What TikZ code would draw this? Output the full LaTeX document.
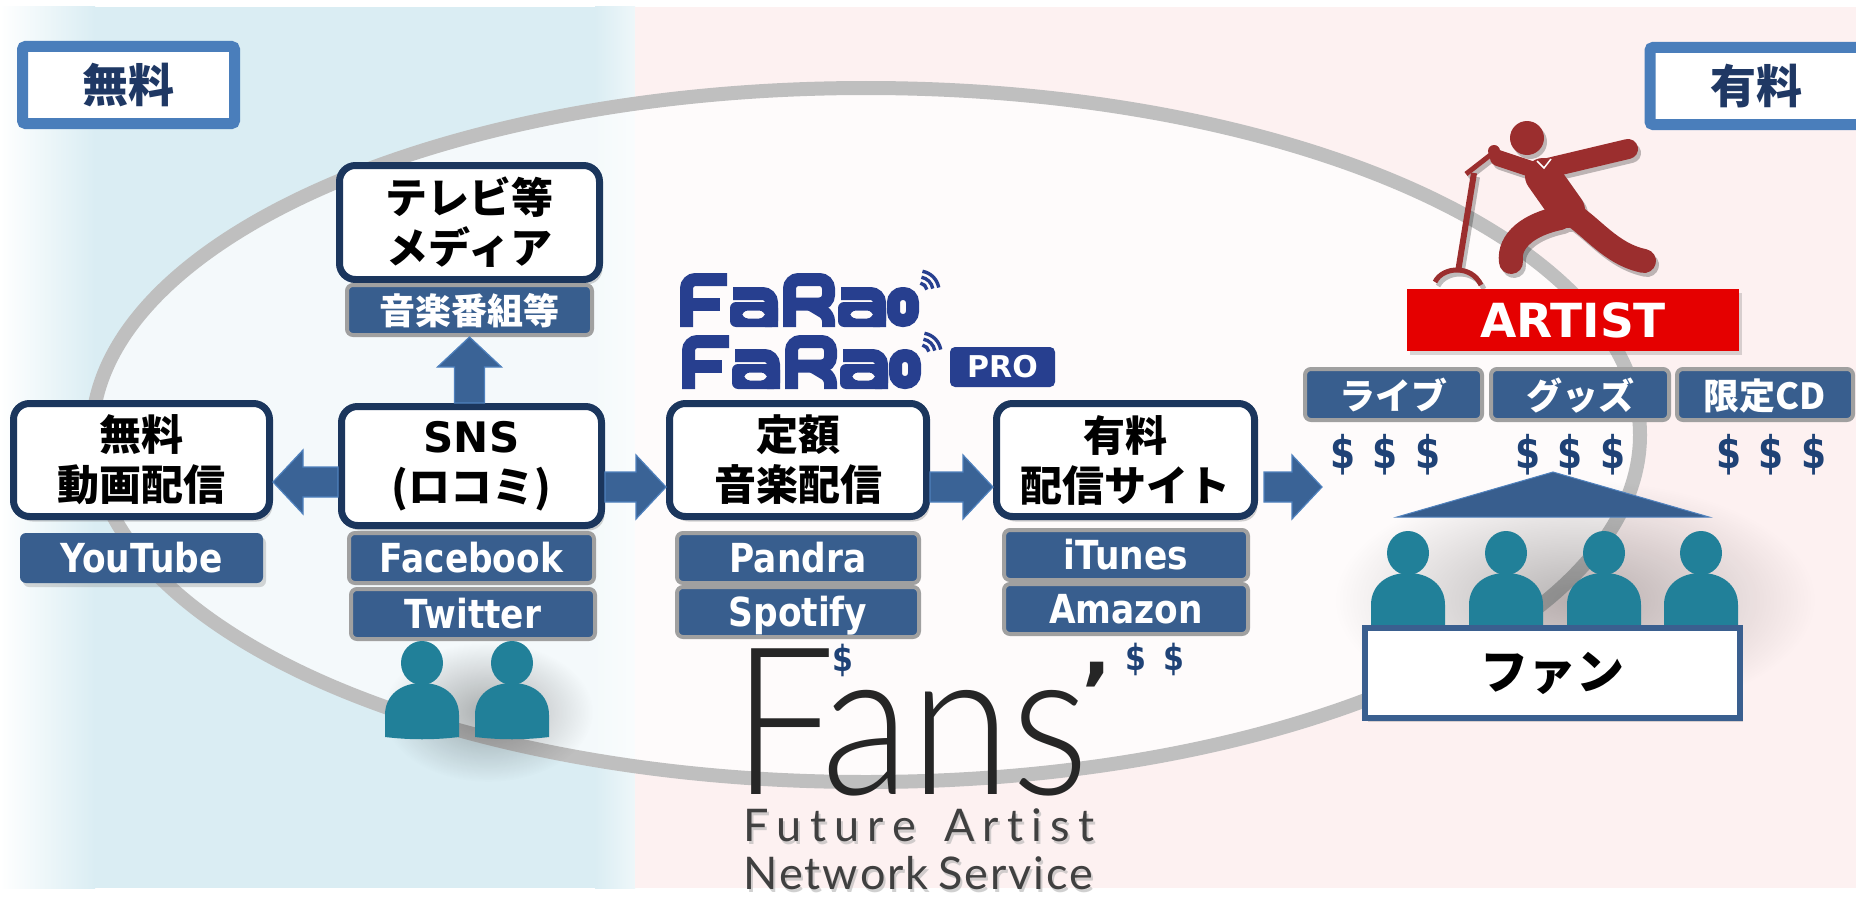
\documentclass[tikz,border=0pt]{standalone}
\usepackage{fontspec}
\usetikzlibrary{calc,shadows,fadings}

\newfontfamily\jp{Noto Sans CJK JP}
\newfontfamily\lat{DejaVu Sans}
\newfontfamily\latn{DejaVu Sans}[FakeStretch=0.86]
\newfontfamily\fansfont{Lato Light}
\newfontfamily\subfont{Lato}

\definecolor{navy}{RGB}{27,54,93}
\definecolor{tagblue}{RGB}{56,94,142}
\definecolor{taggray}{RGB}{160,160,160}
\definecolor{arrowblue}{RGB}{58,99,150}
\definecolor{arrowedge}{RGB}{79,129,189}
\definecolor{labelblue}{RGB}{74,126,187}
\definecolor{labeltext}{RGB}{31,56,100}
\definecolor{dollar}{RGB}{31,66,118}
\definecolor{fanteal}{RGB}{33,128,153}
\definecolor{singer}{RGB}{155,46,46}
\definecolor{artistred}{RGB}{229,0,0}
\definecolor{farao}{RGB}{39,63,143}
\definecolor{freebg}{RGB}{218,237,243}
\definecolor{paidbg}{RGB}{253,241,241}
\definecolor{ringgray}{RGB}{191,191,191}
\definecolor{boxblue}{RGB}{58,95,143}

\tikzfading[name=softglow, inner color=transparent!0, outer color=transparent!100]

\tikzset{
  stage/.style={draw=navy, line width=7pt, fill=white, rounded corners=16pt,
    align=center, inner sep=0pt, minimum width=258pt, minimum height=113pt,
    font=\jp\bfseries\fontsize{42}{50}\selectfont,
    drop shadow={opacity=.35, shadow xshift=3pt, shadow yshift=-5pt}},
  svc/.style={draw=taggray, line width=4pt, fill=tagblue, rounded corners=6pt,
    minimum width=244pt, minimum height=50pt, inner sep=0pt, text=white,
    text height=29pt, text depth=0pt},
  svclat/.style={svc, font=\latn\bfseries\fontsize{40}{44}\selectfont},
  svcjp/.style={svc, font=\jp\bfseries\fontsize{36}{40}\selectfont},
  sidelabel/.style={draw=labelblue, line width=11pt, fill=white, rounded corners=3pt,
    minimum width=212pt, minimum height=77pt, inner sep=0pt, text=labeltext,
    font=\jp\bfseries\fontsize{46}{50}\selectfont,
    drop shadow={opacity=.3, shadow xshift=3pt, shadow yshift=-4pt}},
  barrow/.style={fill=arrowblue, draw=arrowedge, line width=1.2pt},
  dollars/.style={text=dollar, inner sep=0pt, font=\lat\bfseries\fontsize{36}{40}\selectfont},
  smalldollar/.style={text=dollar, inner sep=0pt, font=\lat\bfseries\fontsize{30}{34}\selectfont},
  subline/.style={anchor=base west, inner sep=0pt, font=\subfont\fontsize{45}{48}\selectfont},
  pics/fanicon/.style={code={
    \fill[fanteal] (0,0) ellipse [x radius=21, y radius=22];
    \fill[fanteal] (-37,74) -- (-37,52) .. controls (-37,32) and (-21,20) .. (0,20)
      .. controls (21,20) and (37,32) .. (37,52) -- (37,74)
      .. controls (12,77) and (-12,77) .. (-37,74) -- cycle;
  }},
}

% block arrow from #1 to #2 (shaft half width 15, head half width 32, head length 30)
\newcommand\blockarrow[2]{%
  \coordinate (bah) at ($(#2)!30pt!(#1)$);
  \filldraw[barrow] ($(#1)!15pt!90:(#2)$) -- ($(bah)!15pt!-90:(#1)$)
    -- ($(bah)!32pt!-90:(#1)$) -- (#2) -- ($(bah)!32pt!90:(#1)$)
    -- ($(bah)!15pt!90:(#1)$) -- ($(#1)!15pt!-90:(#2)$) -- cycle;}

\newcommand\threedollars{\$\hspace{17pt}\$\hspace{17pt}\$}

% letter "a" of the FaRao wordmark
\newcommand\faraoa{%
  \draw[rounded corners=9pt] (53,20.5) -- (91.5,20.5) -- (91.5,54);
  \fill[even odd rule, rounded corners=6pt] (50,29) rectangle (98,54) (62,37.5) rectangle (85,45.5);}

% FaRao wordmark, local units in px, cap height 54
\newcommand\faraoword{%
  \begin{scope}[draw=farao, fill=farao, line width=13pt]
    \draw[rounded corners=9pt] (6.5,54) -- (6.5,6.5) -- (47,6.5);
    \draw (6.5,31) -- (40,31);
    \faraoa
    \draw[rounded corners=9pt] (109.5,54) -- (109.5,6.5) -- (148.5,6.5) -- (148.5,31) -- (116,31);
    \draw[rounded corners=6pt] (130,31) -- (148.5,42) -- (148.5,54);
    \begin{scope}[shift={(108,0)}]\faraoa\end{scope}
    \draw[rounded corners=9pt] (213.5,20.5) rectangle (232.5,47.5);
    \foreach \r in {8,14,20}
      \draw[line width=3.4pt] (239,18) ++(-80:\r) arc [start angle=-80, end angle=-10, radius=\r];
  \end{scope}}

% singer with microphone stand
\newcommand\drawsinger{%
  \fill (1527,138) circle [radius=17];
  \fill (1494,151) circle [radius=6];
  \draw[line width=5pt] (1466,174) -- (1493,153);
  \draw[line width=6pt] (1474,173) -- (1458,272);
  \draw[line width=5pt] (1435,282) .. controls (1443,266) and (1472,265) .. (1481,285);
  \draw[line width=36pt, line cap=round] (1543,176) -- (1567,210);
  \draw[line width=20pt, line cap=round] (1548,168) -- (1628,149);
  \draw[line width=16pt, line cap=round] (1540,172) -- (1498,158);
  \draw[line width=24pt, line cap=round] (1568,212) .. controls (1592,226) and (1610,254) .. (1644,261);
  \draw[line width=24pt, line cap=round] (1560,218) .. controls (1530,224) and (1508,240) .. (1511,262);}

\begin{document}
\begin{tikzpicture}[x=1pt,y=-1pt]
\useasboundingbox (0,0) rectangle (1856,899);
\fill[white] (0,0) rectangle (1856,899);

% free / paid backgrounds
\fill[freebg] (0,7) rectangle (635,888);
\shade[left color=white, right color=freebg] (0,7) rectangle (95,888);
\shade[left color=freebg, right color=freebg!45!white] (595,7) rectangle (635,888);
\fill[paidbg] (635,7) rectangle (1856,888);

% the fan circle
\draw[ringgray, line width=14pt, fill=white, fill opacity=.72] (866,435) ellipse [x radius=774, y radius=347];

% soft shadows behind the people
\fill[black, opacity=.3, path fading=softglow] (488,712) ellipse [x radius=105, y radius=70];
\fill[black, opacity=.28, path fading=softglow] (1575,600) ellipse [x radius=240, y radius=120];

% free / paid labels
\node[sidelabel] (freelabel) at (128.5,85) {無料};
\node[sidelabel] (paidlabel) at (1756,86) {有料};

% FaRao / FaRao PRO
\begin{scope}[shift={(680,273)}]\faraoword\end{scope}
\begin{scope}[shift={(682,335)}]\faraoword\end{scope}
\node[fill=farao, rounded corners=5pt, minimum width=105pt, minimum height=40pt, inner sep=0pt,
  text=white, font=\lat\bfseries\fontsize{30}{30}\selectfont] (pro) at (1002.5,367) {PRO};

% stages
\node[stage, minimum width=260pt, minimum height=114pt] (tv) at (469.5,222.5) {テレビ等\\メディア};
\node[svcjp, minimum width=245pt] (tvtag) at (469.5,310) {音楽番組等};
\node[stage, minimum width=256pt] (free) at (141.5,460) {無料\\動画配信};
\node[svclat, draw=none, minimum width=243pt, drop shadow={opacity=.3, shadow xshift=3pt, shadow yshift=-4pt}] (yt) at (141.5,558) {YouTube};
\node[stage, minimum width=260pt, minimum height=119pt] (sns) at (471.5,466) {{\lat SNS}\\(ロコミ)};
\node[svclat, minimum width=245pt] (fb) at (471.5,558) {Facebook};
\node[svclat, minimum width=244pt] (tw) at (473,614) {Twitter};
\node[stage, minimum width=257pt] (teigaku) at (798,460) {定額\\音楽配信};
\node[svclat, minimum width=242pt] (pandra) at (798,558) {Pandra};
\node[svclat, minimum width=242pt] (spotify) at (798,612) {Spotify};
\node[stage, minimum width=258pt] (yuryo) at (1125.5,460) {有料\\配信サイト};
\node[svclat, minimum width=244pt] (itunes) at (1126,555) {iTunes};
\node[svclat, minimum width=244pt] (amazon) at (1126,609) {Amazon};

% connectors
\coordinate (rowR) at (0,487);
\coordinate (rowL) at (0,482);
\coordinate (a1s) at (sns.east |- rowR);
\coordinate (a1e) at (teigaku.west |- rowR);
\coordinate (a2s) at (teigaku.east |- rowR);
\coordinate (a2e) at (yuryo.west |- rowR);
\coordinate (a3s) at ($(yuryo.east |- rowR)+(6,0)$);
\coordinate (toartist) at (1322,487);
\coordinate (a4s) at (sns.west |- rowL);
\coordinate (a4e) at (free.east |- rowL);
\coordinate (a5s) at (tvtag.south |- sns.north);
\coordinate (a5e) at (tvtag.south);
\blockarrow{a1s}{a1e}
\blockarrow{a2s}{a2e}
\blockarrow{a3s}{toartist}
\blockarrow{a4s}{a4e}
\blockarrow{a5s}{a5e}

% Fans' logo
\node[anchor=base west, inner sep=0pt, font=\fansfont\fontsize{206}{206}\selectfont, text=black!85] (fans) at (732,794) {\scalebox{0.889}[1]{Fans}};
\node[anchor=base, inner sep=0pt, font=\lat\bfseries\fontsize{80}{80}\selectfont, text=black!85] (fansapos) at (1097,720) {’};
\node[subline, text=black!30, opacity=.6] at (745,844) {\makebox[351pt][s]{F\hfill u\hfill t\hfill u\hfill r\hfill e\hfill\hspace{12pt}\hfill A\hfill r\hfill t\hfill i\hfill s\hfill t}};
\node[subline, text=black!75] (futart) at (743,841) {\makebox[351pt][s]{F\hfill u\hfill t\hfill u\hfill r\hfill e\hfill\hspace{12pt}\hfill A\hfill r\hfill t\hfill i\hfill s\hfill t}};
\node[subline, text=black!30, opacity=.6] at (745,892) {\makebox[350pt][s]{N\hfill e\hfill t\hfill w\hfill o\hfill r\hfill k\hfill\hspace{6pt}\hfill S\hfill e\hfill r\hfill v\hfill i\hfill c\hfill e}};
\node[subline, text=black!75] (netserv) at (743,889) {\makebox[350pt][s]{N\hfill e\hfill t\hfill w\hfill o\hfill r\hfill k\hfill\hspace{6pt}\hfill S\hfill e\hfill r\hfill v\hfill i\hfill c\hfill e}};

% money
\node[smalldollar] (cashsub) at (843,660) {\scalebox{1}[1.2]{\$}};
\node[smalldollar] (cashpaid) at (1155,659) {\scalebox{1}[1.2]{\$\hspace{17pt}\$}};

% two people under the SNS column
\pic (snsfan1) at (422,663) {fanicon};
\pic (snsfan2) at (512,663) {fanicon};

% the artist
\begin{scope}[shift={(3,4)}, transparency group, opacity=.25, draw=black, fill=black]\drawsinger\end{scope}
\begin{scope}[draw=singer, fill=singer]\drawsinger\end{scope}
\draw[white, line width=1.5pt] (1537,161) -- (1544,168) -- (1551,159);

\node[fill=artistred, minimum width=332pt, minimum height=62pt, inner sep=0pt, text=white,
  font=\lat\bfseries\fontsize{47}{50}\selectfont,
  drop shadow={opacity=.3, shadow xshift=3pt, shadow yshift=-4pt}] (artist) at (1573,320) {ARTIST};

\node[svcjp, minimum width=177pt, minimum height=51pt] (live) at (1393.5,394.5) {ライブ};
\node[svcjp, minimum width=178pt, minimum height=51pt] (goods) at (1580,394.5) {グッズ};
\node[svcjp, minimum width=176pt, minimum height=51pt] (limited) at (1765,394.5) {限定CD};

\node[dollars] (cash1) at (1385.5,455) {\scalebox{1}[1.25]{\threedollars}};
\node[dollars] (cash2) at (1570.5,455) {\scalebox{1}[1.25]{\threedollars}};
\node[dollars] (cash3) at (1771.5,455) {\scalebox{1}[1.25]{\threedollars}};

% fans under the roof
\filldraw[fill=tagblue, draw=arrowedge, line width=1pt] (1553,472) -- (1709,517) -- (1397,517) -- cycle;
\pic (fan1) at (1408,553) {fanicon};
\pic (fan2) at (1506,553) {fanicon};
\pic (fan3) at (1604,553) {fanicon};
\pic (fan4) at (1701,553) {fanicon};
\node[draw=boxblue, line width=6pt, fill=white, minimum width=375pt, minimum height=90pt, inner sep=0pt,
  font=\jp\bfseries\fontsize{48}{52}\selectfont,
  drop shadow={opacity=.3, shadow xshift=3pt, shadow yshift=-4pt}] (fanbox) at (1552.5,673) {ファン};
\end{tikzpicture}
\end{document}
